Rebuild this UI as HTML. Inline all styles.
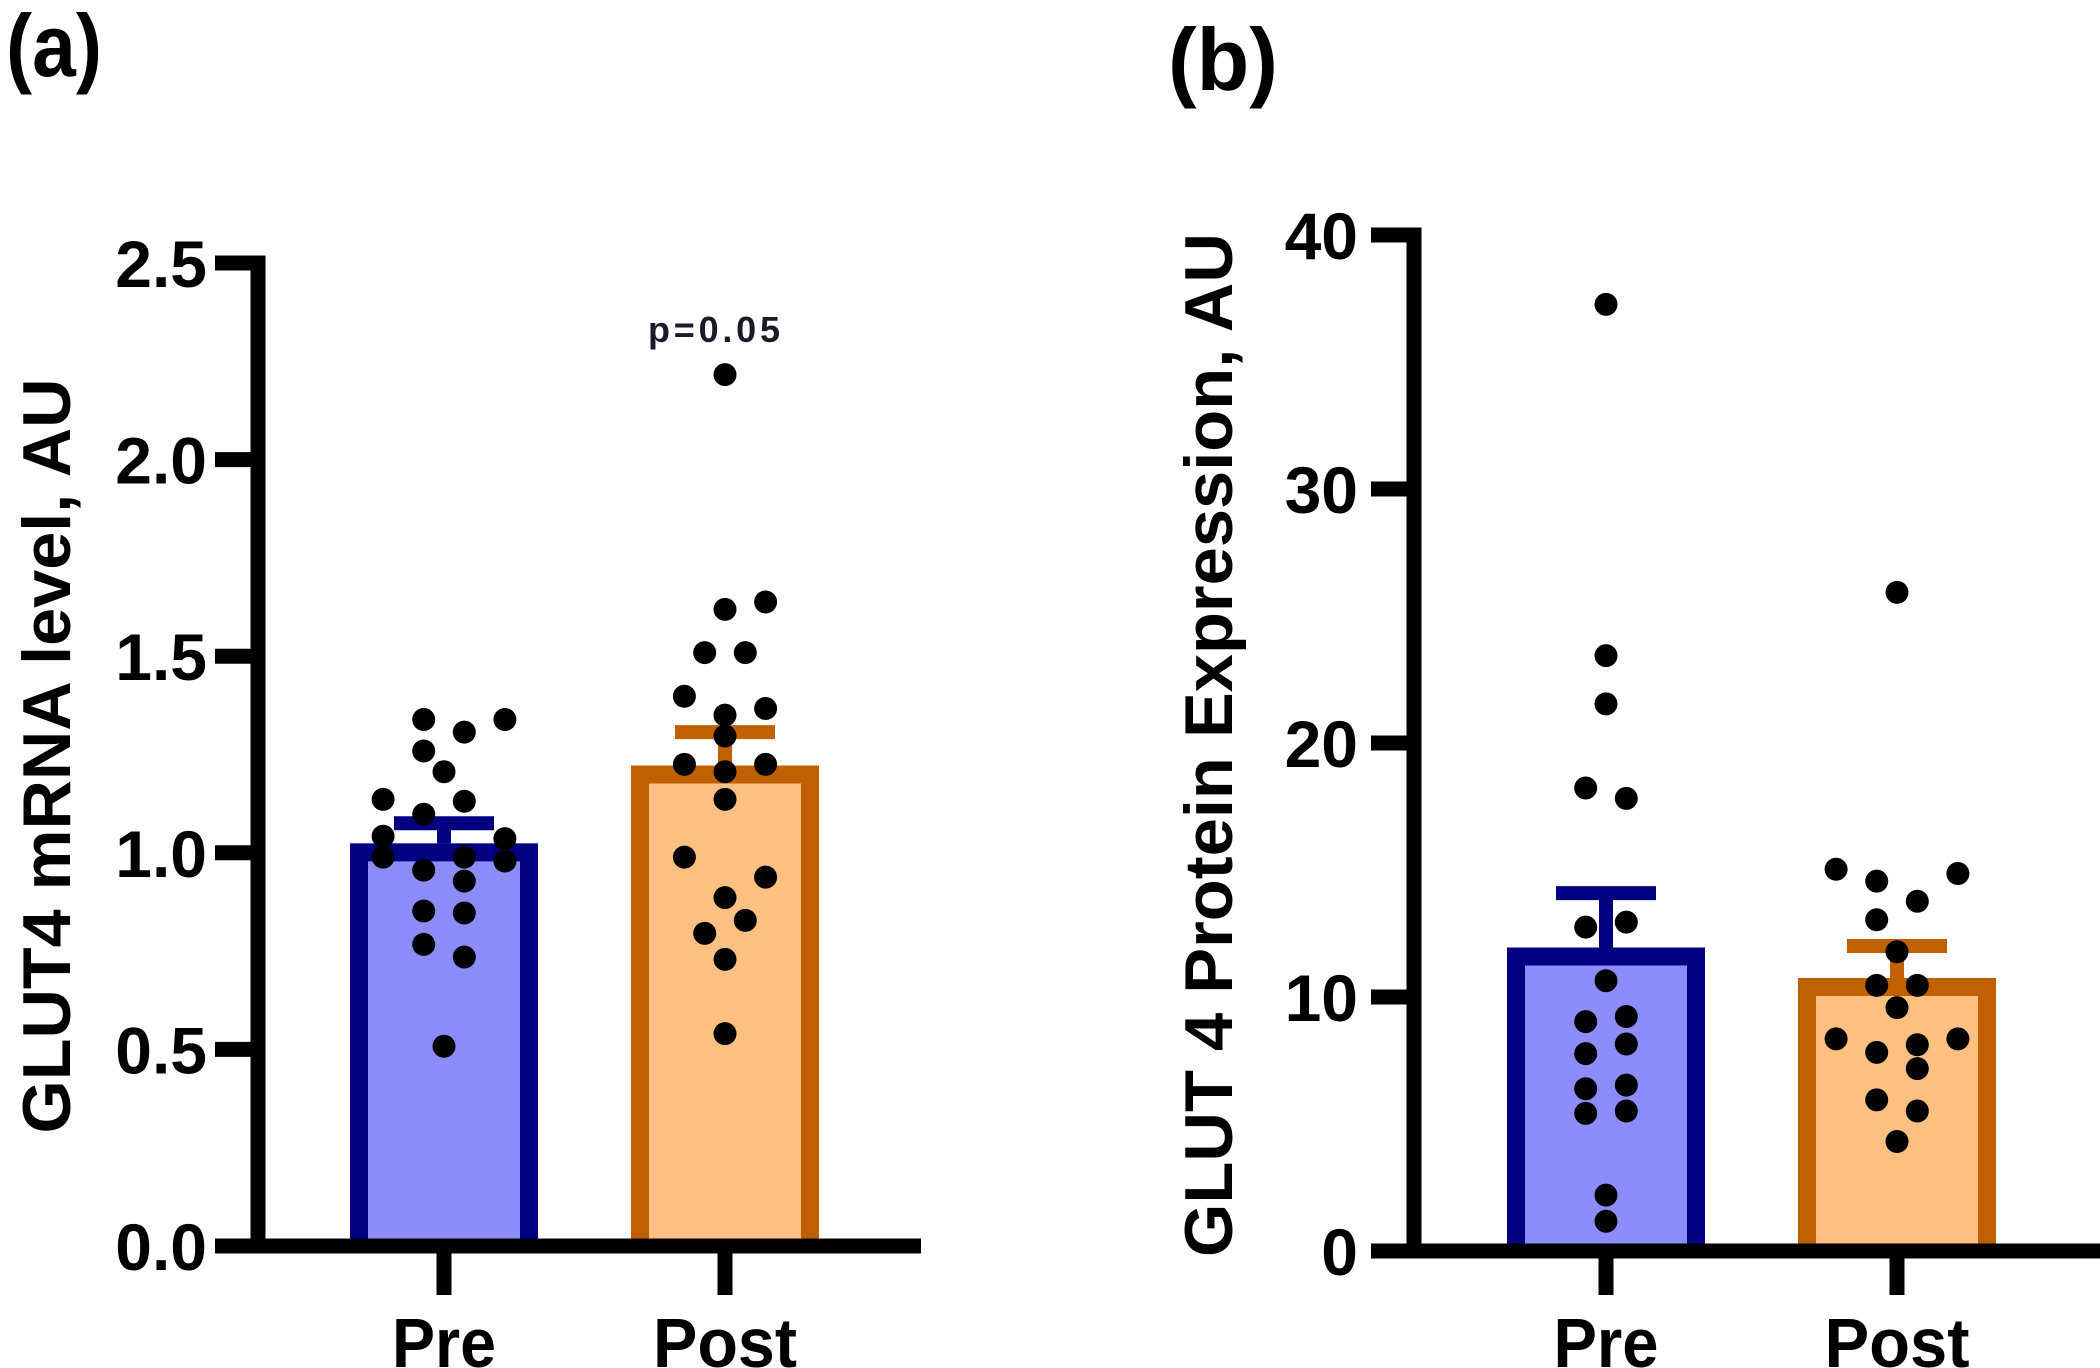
<!DOCTYPE html>
<html><head><meta charset="utf-8"><style>
html,body{margin:0;padding:0;background:#fff;}
svg{display:block;font-family:"Liberation Sans",sans-serif;font-weight:bold;}
</style></head><body>
<svg id="fig" width="2100" height="1368" viewBox="0 0 2100 1368" xmlns="http://www.w3.org/2000/svg">
<text x="6" y="76" font-size="88" textLength="96" lengthAdjust="spacingAndGlyphs">(a)</text>
<text x="1168" y="90" font-size="88" textLength="110" lengthAdjust="spacingAndGlyphs">(b)</text>
</svg>
<script>
// Panel A data
const catsA = ["Pre", "Post"];
const meansA = [1.024, 1.222];
const semA = [0.051, 0.085];
const preA = [1.339,1.339,1.307,1.259,1.206,1.136,1.131,1.098,1.042,1.036,0.989,0.989,0.979,0.956,0.928,0.852,0.847,0.767,0.735,0.508];
const preAJit = [-1,3,1,-1,0,-3,1,-1,-3,3,-3,1,3,-1,1,-1,1,-1,1,0];
const postA = [2.216,1.638,1.619,1.509,1.509,1.398,1.367,1.350,1.297,1.225,1.225,1.206,1.136,0.989,0.938,0.886,0.828,0.795,0.729,0.540];
const postAJit = [0,2,0,-1,1,-2,2,0,0,-2,2,0,0,-2,2,0,1,-1,0,0];
const ticksA = ["0.0","0.5","1.0","1.5","2.0","2.5"];
const tickValsA = [0,0.5,1.0,1.5,2.0,2.5];
// Panel B data
const catsB = ["Pre", "Post"];
const meansB = [11.95, 10.75];
const semB = [2.14, 1.26];
const preB = [37.27,23.44,21.54,18.23,17.82,12.95,12.75,10.64,9.23,9.03,8.15,7.77,6.53,6.39,5.51,5.42,2.20,1.17];
const preBJit = [0,0,0,-1,1,1,-1,0,1,-1,1,-1,1,-1,1,-1,0,0];
const postB = [25.93,15.03,14.86,14.56,13.77,13.04,11.78,10.46,10.46,9.58,8.35,8.35,7.82,8.12,7.18,5.95,5.51,4.31];
const postBJit = [0,-3,3,-1,1,-1,0,-1,1,0,-3,3,-1,1,1,-1,1,0];
const ticksB = ["0","10","20","30","40"];
const tickValsB = [0,10,20,30,40];

const NS = "http://www.w3.org/2000/svg";
const svg = document.getElementById("fig");
function mk(tag, attrs, parent) {
  const e = document.createElementNS(NS, tag);
  for (const k in attrs) e.setAttribute(k, attrs[k]);
  (parent || svg).appendChild(e);
  return e;
}

function panel(cfg) {
  const g = mk("g", {});
  
  
  const y = v => cfg.y0 - (v - cfg.min) / (cfg.max - cfg.min) * (cfg.y0 - cfg.y1);
  const fills = ["#8c8cfa", "#fdc080"], strokes = ["#000080", "#c06000"];
  const bw = cfg.bw, bs = 18;
  cfg.cats.forEach((c, i) => {
    const cx = cfg.cx[i];
    const top = y(cfg.means[i]);
    const bg = mk("g", {}, g);
    
    
    mk("rect", {x: cx - bw/2, y: top, width: bw, height: cfg.y0 - top, fill: fills[i]}, bg);
    const l = cx - bw/2 + bs/2, r = cx + bw/2 - bs/2, t = top + bs/2;
    mk("path", {d: "M" + l + "," + cfg.y0 + " L" + l + "," + t + " L" + r + "," + t + " L" + r + "," + cfg.y0, fill: "none", stroke: strokes[i], "stroke-width": bs}, bg);
    const et = y(cfg.means[i] + cfg.sem[i]);
    const eg = mk("g", {stroke: strokes[i], "stroke-width": 14}, g);
    
    
    mk("line", {x1: cx, x2: cx, y1: et, y2: top}, eg);
    mk("line", {x1: cx - 50, x2: cx + 50, y1: et, y2: et}, eg);
  });
  cfg.pts.forEach((arr, i) => {
    const dg = mk("g", {fill: "#000"}, g);
    
    
    arr.forEach((v, j) => {
      const c = mk("circle", {cx: cfg.cx[i] + cfg.jit[i][j] * 20.3, cy: y(v), r: 11.5}, dg);
      
      
    });
  });
  const ax = mk("g", {stroke: "#000", "stroke-width": 15}, g);
  
  
  mk("line", {x1: cfg.ax, x2: cfg.ax, y1: cfg.y1 - 7.5, y2: cfg.y0 + 7.5}, ax);
  mk("line", {x1: cfg.ax, x2: cfg.xEnd, y1: cfg.y0, y2: cfg.y0}, ax);
  cfg.tickVals.forEach((v, i) => {
    mk("line", {x1: cfg.tickL, x2: cfg.ax, y1: y(v), y2: y(v)}, ax);
    const t = mk("text", {x: cfg.lblR, y: y(v) + 24, "text-anchor": "end", "font-size": 66}, g);
    t.textContent = cfg.ticks[i];
    
    
  });
  cfg.cats.forEach((c, i) => {
    mk("line", {x1: cfg.cx[i], x2: cfg.cx[i], y1: cfg.y0, y2: 1295}, ax);
    const t = mk("text", {x: cfg.cx[i], y: 1367, "text-anchor": "middle", "font-size": 70, textLength: cfg.xlw[i], lengthAdjust: "spacingAndGlyphs"}, g);
    t.textContent = c;
    
    
  });
  const yl = mk("text", {x: 0, y: 0, "text-anchor": "middle", "font-size": 68, textLength: cfg.yllen, lengthAdjust: "spacingAndGlyphs", transform: "translate(" + cfg.ylx + "," + cfg.yly + ") rotate(-90)"}, g);
  yl.textContent = cfg.ylabel;
  
  
  return y;
}

panel({name: "panel-a-chart", cats: catsA, means: meansA, sem: semA, pts: [preA, postA], jit: [preAJit, postAJit],
  min: 0, max: 2.5, y0: 1246, y1: 263, ax: 258, xEnd: 921, cx: [444, 725], bw: 188, tickL: 215, lblR: 207,
  ticks: ticksA, tickVals: tickValsA, xlw: [104, 144],
  ylabel: "GLUT4 mRNA level, AU", ylx: 70, yly: 756, yllen: 755});
const pt = mk("text", {x: 714, y: 342, "text-anchor": "middle", "font-size": 36, textLength: 132, lengthAdjust: "spacing", fill: "#1a1a2a"});
pt.textContent = "p=0.05";



panel({name: "panel-b-chart", cats: catsB, means: meansB, sem: semB, pts: [preB, postB], jit: [preBJit, postBJit],
  min: 0, max: 40, y0: 1251, y1: 235, ax: 1414, xEnd: 2100, cx: [1606, 1897], bw: 198, tickL: 1371, lblR: 1358,
  ticks: ticksB, tickVals: tickValsB, xlw: [105, 145],
  ylabel: "GLUT 4 Protein Expression, AU", ylx: 1232, yly: 745, yllen: 1024});
</script>
</body></html>
